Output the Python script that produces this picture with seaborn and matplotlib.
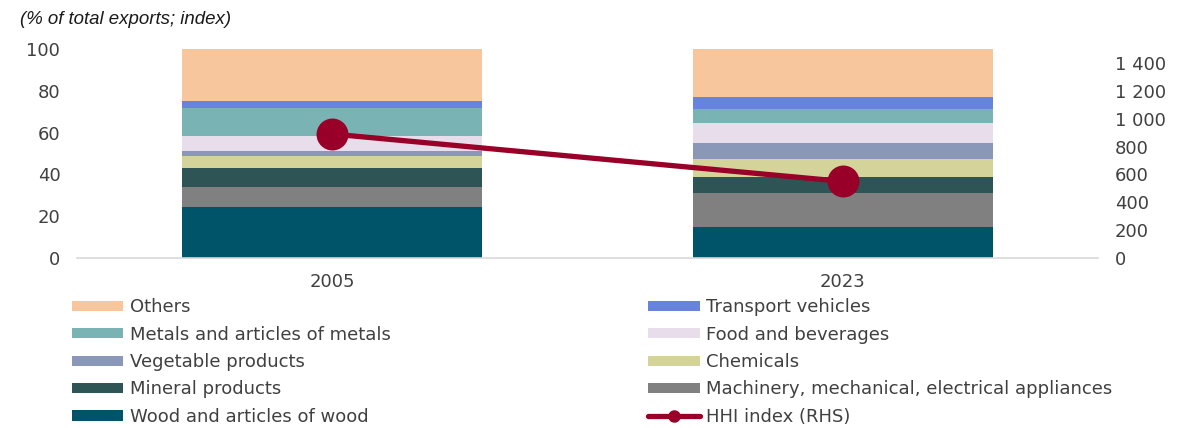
import numpy as np
import pandas as pd
import matplotlib
matplotlib.use("Agg")
import matplotlib.pyplot as plt
import seaborn as sns
from matplotlib.patches import Patch
from matplotlib.lines import Line2D
from matplotlib.ticker import FuncFormatter

# Data (shares of total exports, %)
years = ["2005", "2023"]
sectors = [
    "Wood and articles of wood",
    "Machinery, mechanical, electrical appliances",
    "Mineral products",
    "Chemicals",
    "Vegetable products",
    "Food and beverages",
    "Metals and articles of metals",
    "Transport vehicles",
    "Others",
]
wood = [24.5, 14.7]
machinery = [9.6, 16.4]
mineral = [8.9, 7.7]
chemicals = [5.8, 8.5]
vegetable = [2.5, 7.7]
food = [7.1, 9.7]
metals = [13.2, 6.7]
transport = [3.5, 5.8]
others = [24.9, 22.8]
hhi = [890, 550]

colors = {
    "Wood and articles of wood": "#00546A",
    "Machinery, mechanical, electrical appliances": "#808080",
    "Mineral products": "#2F5455",
    "Chemicals": "#D4D49A",
    "Vegetable products": "#8A97B8",
    "Food and beverages": "#E8DDEA",
    "Metals and articles of metals": "#7AB3B4",
    "Transport vehicles": "#6883DD",
    "Others": "#F8C69C",
}
hhi_color = "#990029"
text_color = "#404040"

values = [wood, machinery, mineral, chemicals, vegetable, food, metals, transport, others]
df = pd.DataFrame(np.array(values).T, index=years, columns=sectors)
cum = df.cumsum(axis=1)

sns.set_style("white")
plt.rcParams["font.family"] = ["DejaVu Sans"]

fig = plt.figure(figsize=(11.96, 4.28), dpi=100)
ax = fig.add_axes([0.0644, 0.397, 0.8536, 0.4885])

# stacked bars: draw cumulative totals from the top down
for s in reversed(sectors):
    sns.barplot(x=years, y=cum[s].values, color=colors[s], width=0.588,
                saturation=1, linewidth=0, edgecolor="none", ax=ax, zorder=2)

ax.set_xlim(-0.5, 1.5)
ax.set_ylim(0, 100)
ax.set_yticks(range(0, 101, 20))
for sp in ["top", "left", "right"]:
    ax.spines[sp].set_visible(False)
ax.spines["bottom"].set_color("#D9D9D9")
ax.spines["bottom"].set_linewidth(1.2)
ax.tick_params(axis="both", length=0, labelsize=13, colors=text_color)
ax.tick_params(axis="y", pad=12)
ax.tick_params(axis="x", pad=10.5)

ax2 = ax.twinx()
sns.lineplot(x=[0, 1], y=hhi, color=hhi_color, lw=3.8, marker="o",
             markersize=23, markeredgewidth=0, ax=ax2, zorder=5)
ax2.set_ylim(0, 1500)
ax2.set_yticks(range(0, 1401, 200))
ax2.yaxis.set_major_formatter(FuncFormatter(lambda v, p: f"{int(v):,}".replace(",", " ")))
for sp in ["top", "left", "right", "bottom"]:
    ax2.spines[sp].set_visible(False)
ax2.tick_params(axis="y", length=0, labelsize=13, colors=text_color, pad=12)
ax2.set_xlim(-0.5, 1.5)

fig.text(0.017, 0.945, "(% of total exports; index)", fontsize=13.4, style="italic",
         family=["Liberation Sans", "DejaVu Sans"], color="#1a1a1a")

left_items = ["Others", "Metals and articles of metals", "Vegetable products",
              "Mineral products", "Wood and articles of wood"]
right_items = ["Transport vehicles", "Food and beverages", "Chemicals",
               "Machinery, mechanical, electrical appliances"]

lh = [Patch(facecolor=colors[s], edgecolor="none") for s in left_items]
rh = [Patch(facecolor=colors[s], edgecolor="none") for s in right_items]
rh.append(Line2D([0], [0], color=hhi_color, lw=3.8, marker="o", markersize=8))

leg_kw = dict(frameon=False, fontsize=13, handlelength=2.85, handleheight=0.5,
              handletextpad=0.35, labelspacing=0.52, borderaxespad=0, borderpad=0,
              labelcolor=text_color)
l1 = fig.legend(lh, left_items, loc="upper left", bbox_to_anchor=(0.060, 0.303), **leg_kw)
l2 = fig.legend(rh, right_items + ["HHI index (RHS)"], loc="upper left",
                bbox_to_anchor=(0.542, 0.303), **leg_kw)

fig.savefig("out.png", dpi=100)
